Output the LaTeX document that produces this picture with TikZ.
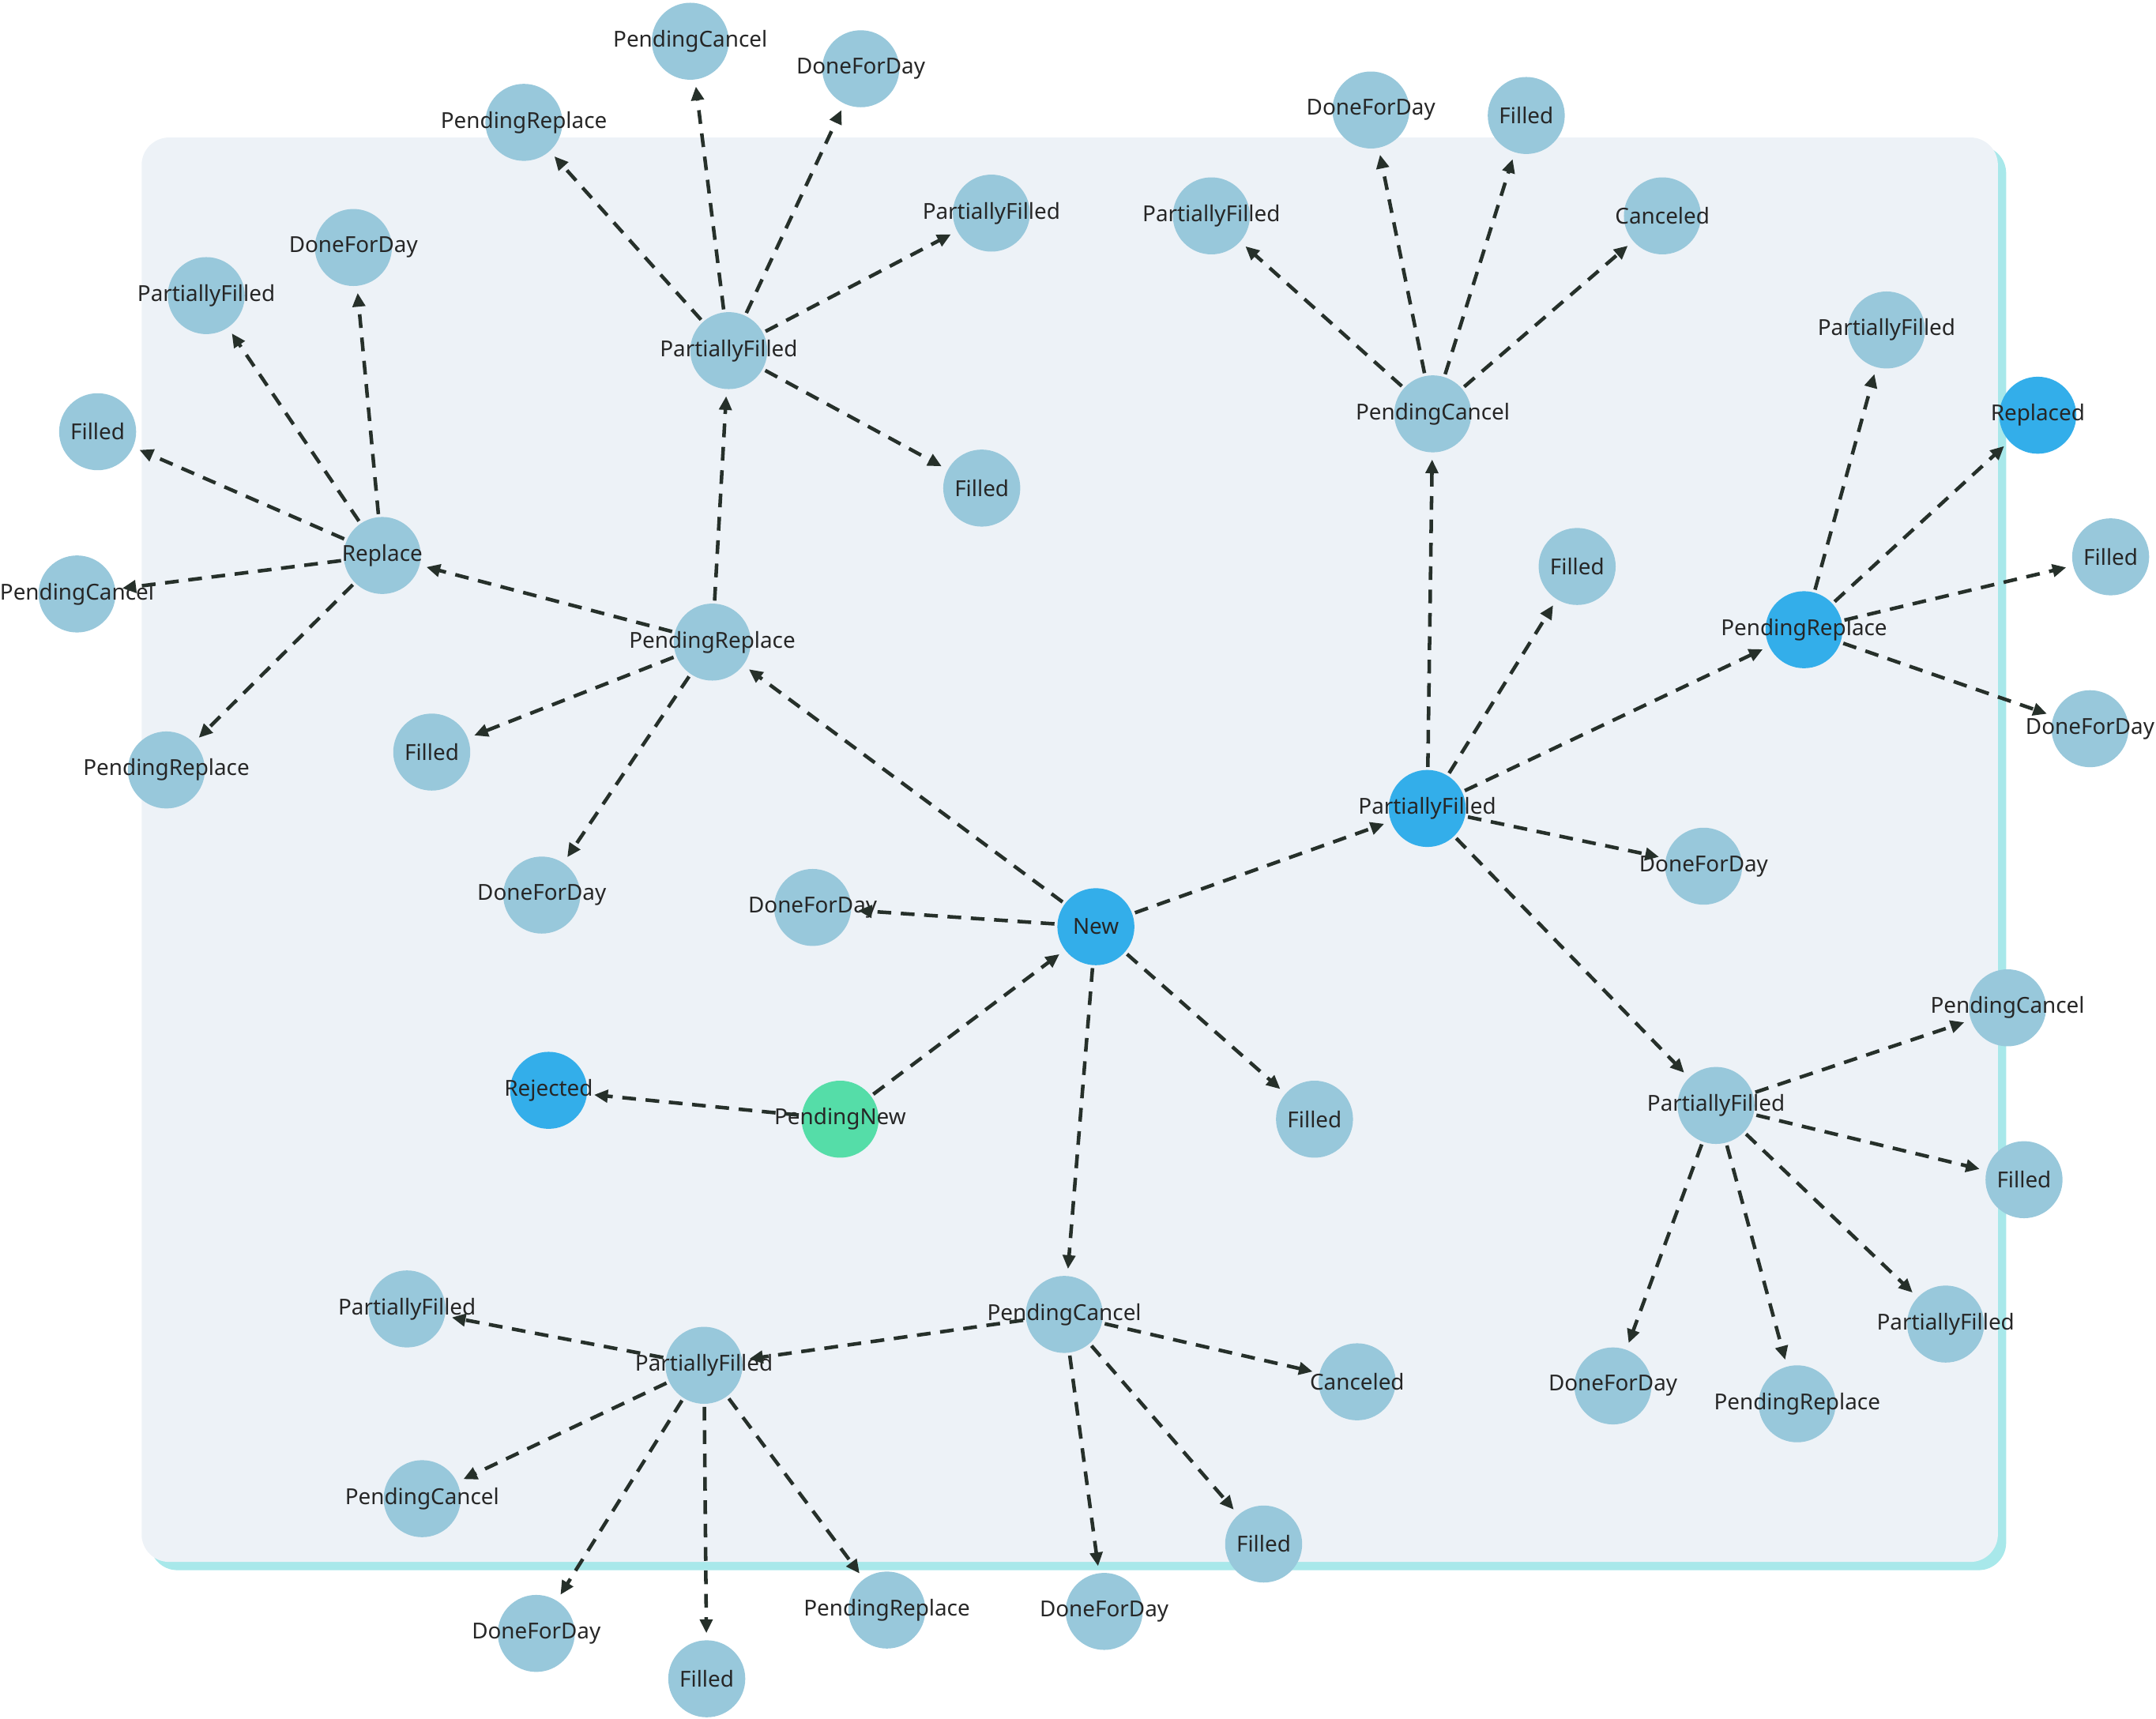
\documentclass[tikz,border=0pt]{standalone}
\usepackage{fontspec}
\setmainfont{Noto Sans}
\usetikzlibrary{arrows.meta}
\definecolor{lt}{HTML}{98C8DB}
\definecolor{dk}{HTML}{33AEEA}
\definecolor{gr}{HTML}{55DDA8}
\definecolor{ar}{HTML}{26302A}
\definecolor{bg}{HTML}{EDF2F7}
\definecolor{sh}{HTML}{A8E8EA}
\begin{document}
\begin{tikzpicture}[x=1pt,y=-1pt,
 st/.style={circle,minimum size=56pt,inner sep=0pt,fill=lt,label={[font=\fontsize{16}{16}\selectfont,text=black!85,inner sep=0pt]center:#1}},
 d/.style={st=#1,fill=dk}, g/.style={st=#1,fill=gr},
 e/.style={draw=ar,line width=2.6pt,dash pattern=on 10pt off 7pt,-{Triangle[length=10pt,width=9pt]},shorten >=5pt,shorten <=2pt}]
\useasboundingbox (0,0) rectangle (1568,1250);
\fill[sh,rounded corners=20pt] (109,106) rectangle (1459,1142);
\fill[bg,rounded corners=20pt] (103,100) rectangle (1453,1136);
% nodes
\node[d=New] (new) at (797,674) {};
\node[g=PendingNew] (pn) at (611,814) {};
\node[d=Rejected] (rej) at (399,793) {};
\node[st=DoneForDay] (dfd1) at (591,660) {};
\node[st=Filled] (f1) at (956,814) {};
\node[st=PendingCancel] (pcb) at (774,956) {};
\node[st=PartiallyFilled] (pfb) at (512,993) {};
\node[st=PartiallyFilled] (pfb1) at (296,952) {};
\node[st=PendingCancel] (pfb2) at (307,1090) {};
\node[st=DoneForDay] (pfb3) at (390,1188) {};
\node[st=Filled] (pfb4) at (514,1221) {};
\node[st=PendingReplace] (pfb5) at (645,1171) {};
\node[st=Canceled] (pcb1) at (987,1005) {};
\node[st=Filled] (pcb2) at (919,1123) {};
\node[st=DoneForDay] (pcb3) at (803,1172) {};
\node[d=PartiallyFilled] (pfr) at (1038,588) {};
\node[st=PendingCancel] (pct) at (1042,301) {};
\node[st=Filled] (pfr1) at (1147,412) {};
\node[d=PendingReplace] (prr) at (1312,458) {};
\node[st=DoneForDay] (pfr2) at (1239,630) {};
\node[st=PartiallyFilled] (pfrb) at (1248,804) {};
\node[st=PartiallyFilled] (pct1) at (881,157) {};
\node[st=DoneForDay] (pct2) at (997,80) {};
\node[st=Filled] (pct3) at (1110,84) {};
\node[st=Canceled] (pct4) at (1209,157) {};
\node[st=PartiallyFilled] (prr1) at (1372,240) {};
\node[d=Replaced] (prr2) at (1482,302) {};
\node[st=Filled] (prr3) at (1535,405) {};
\node[st=DoneForDay] (prr4) at (1520,530) {};
\node[st=PendingCancel] (pfrb1) at (1460,733) {};
\node[st=Filled] (pfrb2) at (1472,858) {};
\node[st=PartiallyFilled] (pfrb3) at (1415,963) {};
\node[st=PendingReplace] (pfrb4) at (1307,1021) {};
\node[st=DoneForDay] (pfrb5) at (1173,1008) {};
\node[st=PendingReplace] (prl) at (518,467) {};
\node[st=PartiallyFilled] (pft) at (530,255) {};
\node[st=Replace] (rep) at (278,404) {};
\node[st=Filled] (prl1) at (314,547) {};
\node[st=DoneForDay] (prl2) at (394,651) {};
\node[st=PendingReplace] (pft1) at (381,89) {};
\node[st=PendingCancel] (pft2) at (502,30) {};
\node[st=DoneForDay] (pft3) at (626,50) {};
\node[st=PartiallyFilled] (pft4) at (721,155) {};
\node[st=Filled] (pft5) at (714,355) {};
\node[st=PartiallyFilled] (rep1) at (150,215) {};
\node[st=DoneForDay] (rep2) at (257,180) {};
\node[st=Filled] (rep3) at (71,314) {};
\node[st=PendingCancel] (rep4) at (56,432) {};
\node[st=PendingReplace] (rep5) at (121,560) {};
% edges
\foreach \a/\b in {pn/new,pn/rej,new/dfd1,new/f1,new/pcb,new/pfr,new/prl,
 pcb/pfb,pcb/pcb1,pcb/pcb2,pcb/pcb3,
 pfb/pfb1,pfb/pfb2,pfb/pfb3,pfb/pfb4,pfb/pfb5,
 pfr/pct,pfr/pfr1,pfr/prr,pfr/pfr2,pfr/pfrb,
 pct/pct1,pct/pct2,pct/pct3,pct/pct4,
 prr/prr1,prr/prr2,prr/prr3,prr/prr4,
 pfrb/pfrb1,pfrb/pfrb2,pfrb/pfrb3,pfrb/pfrb4,pfrb/pfrb5,
 prl/pft,prl/rep,prl/prl1,prl/prl2,
 pft/pft1,pft/pft2,pft/pft3,pft/pft4,pft/pft5,
 rep/rep1,rep/rep2,rep/rep3,rep/rep4,rep/rep5}
 \draw[e] (\a) -- (\b);
\end{tikzpicture}
\end{document}
